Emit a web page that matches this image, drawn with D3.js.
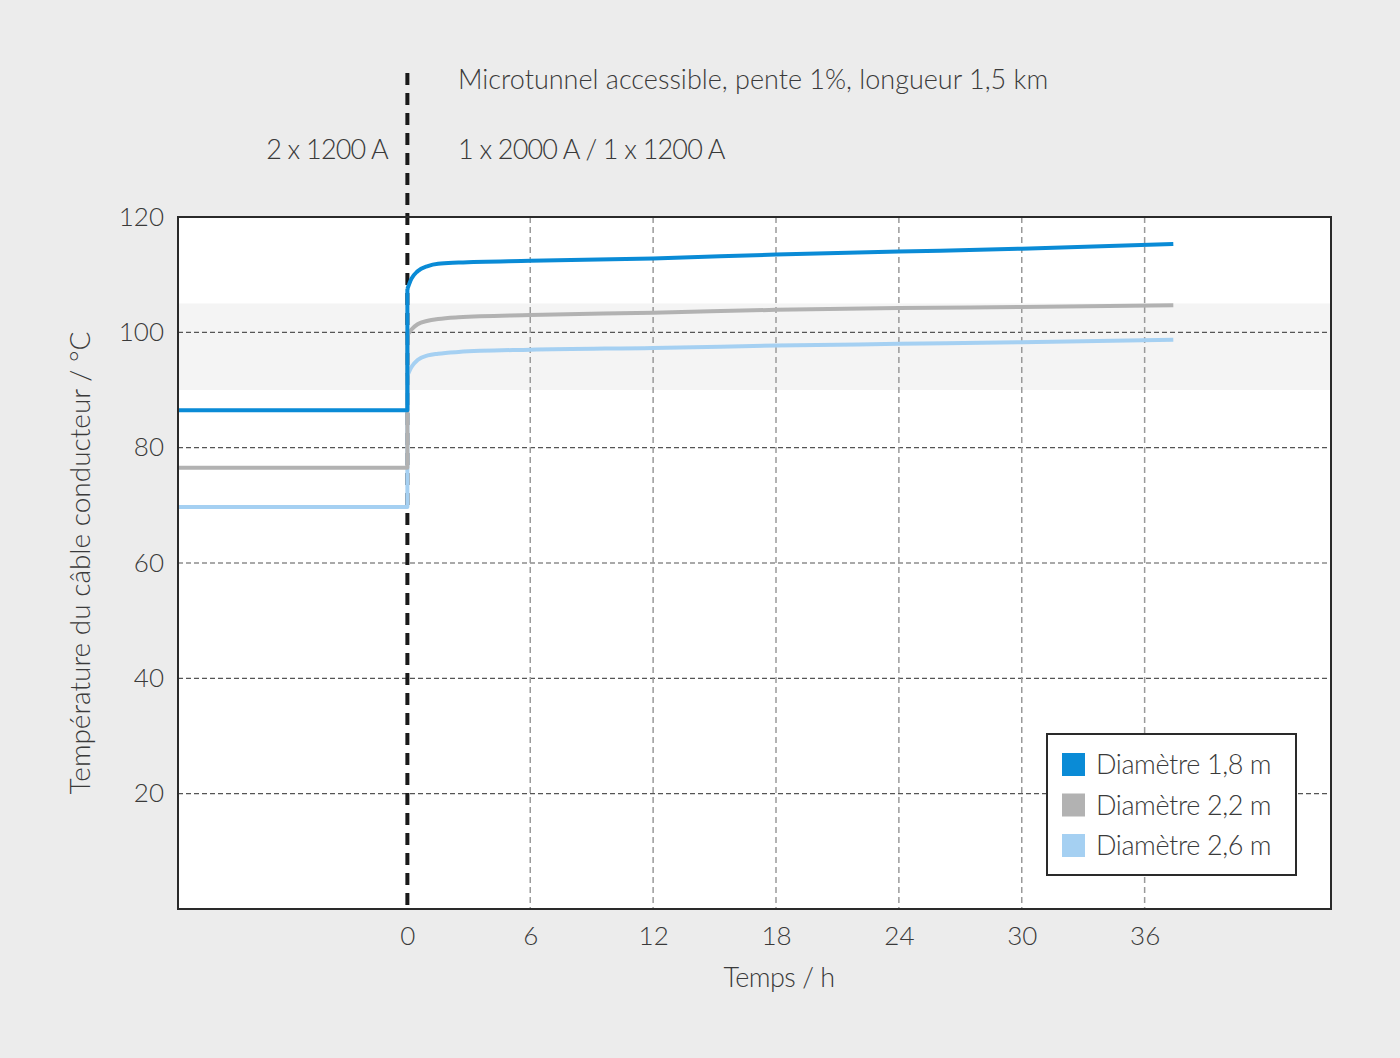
<!DOCTYPE html>
<html>
<head>
<meta charset="utf-8">
<script src="https://cdn.jsdelivr.net/npm/d3@7"></script>
<style>
	body { margin: 0; background: #ececec; }
	svg text { font-family: Lato, 'Open Sans', sans-serif; font-weight: 300; fill: #3a3a3a; }
</style>
</head>
<body>
<svg id="chart" width="1400" height="1058"></svg>
<script>
// values (time in h, temperature in °C)
const xTicks = [0, 6, 12, 18, 24, 30, 36];
const yTicks = [20, 40, 60, 80, 100, 120];
const band = [90, 105];

const seriesNames = ['Diamètre 1,8 m', 'Diamètre 2,2 m', 'Diamètre 2,6 m'];
const seriesColors = ['#0a8bd6', '#b2b2b2', '#a5d0f2'];
const preValues = [86.5, 76.5, 69.7];

const postTimes = [0, 0.2, 0.5, 1, 1.5, 2.5, 6, 12, 18, 24, 30, 37.4];
const blueValues = [107.5, 109.3, 110.6, 111.5, 111.9, 112.1, 112.4, 112.8, 113.5, 114, 114.5, 115.3];
const greyValues = [99.5, 100.5, 101.4, 102, 102.3, 102.6, 103, 103.4, 103.9, 104.2, 104.4, 104.7];
const lightValues = [92.5, 94, 95.2, 96, 96.3, 96.6, 97, 97.3, 97.7, 98, 98.3, 98.7];
const postValues = [blueValues, greyValues, lightValues];

const topNote = 'Microtunnel accessible, pente 1%, longueur 1,5 km';
const leftNote = '2 x 1200 A';
const rightNote = '1 x 2000 A / 1 x 1200 A';

const svg = d3.select('#chart');
const m = { left: 178, right: 1331, top: 217, bottom: 909 };

const x = d3.scaleLinear().domain([-11.2, 45.1]).range([m.left, m.right]);
const y = d3.scaleLinear().domain([0, 120]).range([m.bottom, m.top]);

// plot background
svg.append('rect')
	.attr('x', m.left).attr('y', m.top)
	.attr('width', m.right - m.left).attr('height', m.bottom - m.top)
	.attr('fill', '#fff');

svg.append('rect')
	.attr('x', m.left).attr('y', y(band[1]))
	.attr('width', m.right - m.left).attr('height', y(band[0]) - y(band[1]))
	.attr('fill', '#f4f4f4');

// grid
svg.append('g')
	.selectAll('line')
	.data(yTicks.filter((d) => d < 120))
	.join('line')
	.attr('x1', m.left).attr('x2', m.right)
	.attr('y1', (d) => y(d)).attr('y2', (d) => y(d))
	.attr('stroke', '#555')
	.attr('stroke-width', 1.2)
	.attr('stroke-dasharray', '5,3');

svg.append('g')
	.selectAll('line')
	.data(xTicks.filter((d) => d > 0))
	.join('line')
	.attr('x1', (d) => x(d)).attr('x2', (d) => x(d))
	.attr('y1', m.top).attr('y2', m.bottom)
	.attr('stroke', '#9a9a9a')
	.attr('stroke-width', 1.5)
	.attr('stroke-dasharray', '6,4');

// switch-over marker at t = 0
svg.append('line')
	.attr('x1', x(0)).attr('x2', x(0))
	.attr('y1', 73).attr('y2', m.bottom)
	.attr('stroke', '#1a1a1a')
	.attr('stroke-width', 4)
	.attr('stroke-dasharray', '12,8');

// series
const line = d3.line()
	.x((d) => x(d[0]))
	.y((d) => y(d[1]))
	.curve(d3.curveMonotoneX);

const series = seriesNames.map((name, i) => ({
	name,
	color: seriesColors[i],
	pre: [[x.domain()[0], preValues[i]], [0, preValues[i]], [0, postValues[i][0]]],
	post: postTimes.map((t, j) => [t, postValues[i][j]]),
})).reverse();

const lines = svg.append('g')
	.selectAll('g')
	.data(series)
	.join('g')
	.attr('fill', 'none')
	.attr('stroke', (d) => d.color)
	.attr('stroke-width', 4)
	.attr('stroke-linejoin', 'round');

lines.append('path')
	.attr('d', (d) => d3.line().x((p) => x(p[0])).y((p) => y(p[1]))(d.pre));
lines.append('path')
	.attr('d', (d) => line(d.post));

// frame
svg.append('rect')
	.attr('x', m.left).attr('y', m.top)
	.attr('width', m.right - m.left).attr('height', m.bottom - m.top)
	.attr('fill', 'none')
	.attr('stroke', '#2a2a2a')
	.attr('stroke-width', 2);

// axes
const xAxis = svg.append('g')
	.attr('transform', `translate(0,${m.bottom})`)
	.call(d3.axisBottom(x).tickValues(xTicks).tickSize(0).tickPadding(18));
const yAxis = svg.append('g')
	.attr('transform', `translate(${m.left},0)`)
	.call(d3.axisLeft(y).tickValues(yTicks).tickSize(0).tickPadding(14));

[xAxis, yAxis].forEach((a) => {
	a.select('.domain').remove();
	a.selectAll('text')
		.attr('font-size', 26)
		.attr('fill', '#3a3a3a')
		.style('font-family', "Lato, 'Open Sans', sans-serif");
});

svg.append('text')
	.attr('x', (x(0) + x(36)) / 2 + 3).attr('y', 987)
	.attr('text-anchor', 'middle')
	.attr('font-size', 27)
	.attr('letter-spacing', -0.5)
	.text('Temps / h');

svg.append('text')
	.attr('transform', `translate(90,${563}) rotate(-90)`)
	.attr('text-anchor', 'middle')
	.attr('font-size', 28)
	.text('Température du câble conducteur / °C');

// annotations
svg.append('text').attr('x', 458).attr('y', 89).attr('font-size', 27).text(topNote);
svg.append('text').attr('x', 388).attr('y', 159).attr('font-size', 27)
	.attr('letter-spacing', -0.8).attr('text-anchor', 'end').text(leftNote);
svg.append('text').attr('x', 458).attr('y', 159).attr('font-size', 27)
	.attr('letter-spacing', -0.8).text(rightNote);

// legend
const legend = svg.append('g').attr('transform', 'translate(1047,734)');
legend.append('rect')
	.attr('width', 249).attr('height', 141)
	.attr('fill', '#fff')
	.attr('stroke', '#2a2a2a')
	.attr('stroke-width', 2);

const items = legend.selectAll('.item')
	.data(seriesNames)
	.join('g')
	.attr('class', 'item')
	.attr('transform', (d, i) => `translate(15,${19 + i * 40.5})`);

items.append('rect')
	.attr('width', 23).attr('height', 23)
	.attr('fill', (d, i) => seriesColors[i]);

items.append('text')
	.attr('x', 34).attr('y', 21)
	.attr('font-size', 27)
	.attr('letter-spacing', -0.4)
	.text((d) => d);
</script>
</body>
</html>
